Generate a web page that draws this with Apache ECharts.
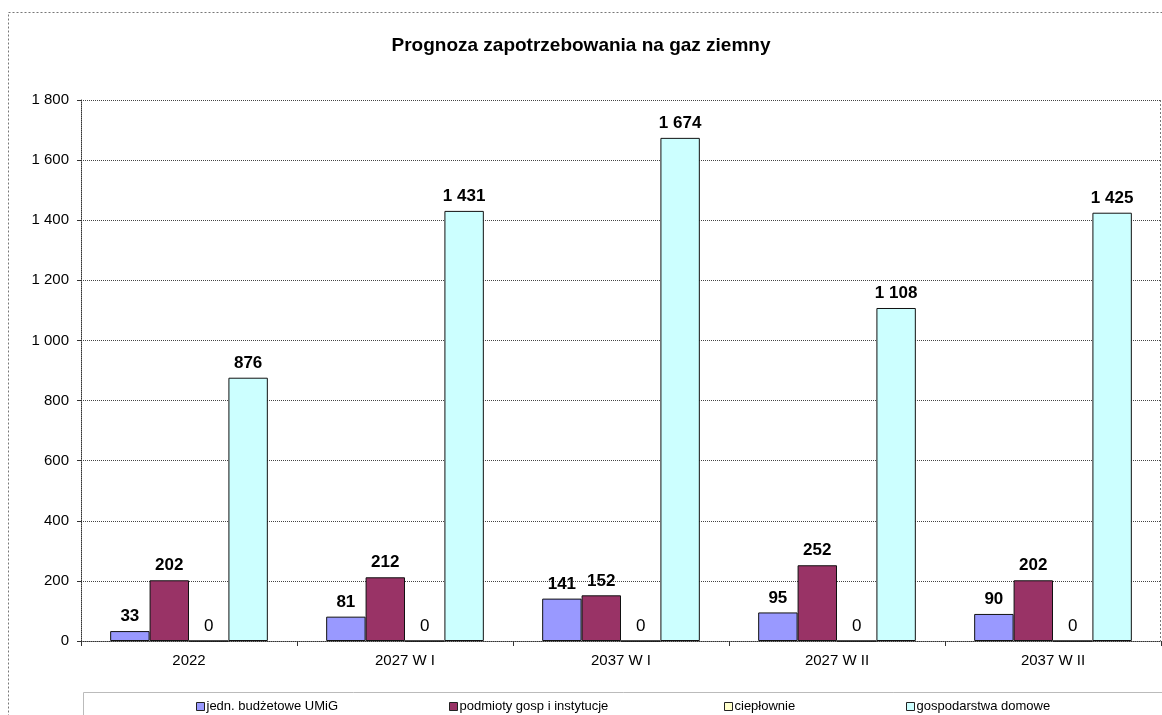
<!DOCTYPE html>
<html>
<head>
<meta charset="utf-8">
<script src="https://cdn.jsdelivr.net/npm/echarts@6/dist/echarts.min.js"></script>
<style>
  html, body { margin: 0; padding: 0; background: #fff; }
  #main { width: 1162px; height: 715px; }
</style>
</head>
<body>
<div id="main"></div>
<script>
// forecast of natural gas demand
const categories = ["2022", "2027 W I", "2037 W I", "2027 W II", "2037 W II"];
const seriesNames = ["jedn. budżetowe UMiG", "podmioty gosp i instytucje", "ciepłownie", "gospodarstwa domowe"];
const jednBudzetowe = [33, 81, 141, 95, 90];
const podmiotyGosp = [202, 212, 152, 252, 202];
const cieplownie = [0, 0, 0, 0, 0];
const gospodarstwa = [876, 1431, 1674, 1108, 1425];
const yTicks = [0, 200, 400, 600, 800, 1000, 1200, 1400, 1600, 1800];

const colors = ["#9999ff", "#993366", "#ffffcc", "#ccffff"];
const legendLeft = [196, 449, 724, 906];
const font = "Liberation Sans, Arial, sans-serif";

function fmt(v) {
  return String(v).replace(/\B(?=(\d{3})+(?!\d))/g, " ");
}

let chart = echarts.init(document.getElementById("main"));

function makeSeries(name, data, i) {
  return {
    name: name,
    type: "bar",
    data: data,
    barGap: "0%",
    barCategoryGap: "27%",
    itemStyle: {
      color: colors[i],
      borderColor: "#111",
      borderWidth: 1,
    },
    label: {
      show: true,
      position: "top",
      distance: 6,
      fontFamily: font,
      fontSize: 17,
      fontWeight: i == 2 ? "normal" : "bold",
      color: "#000",
      formatter: (p) => fmt(p.value),
    },
  };
}

let option = {
  animation: false,
  backgroundColor: "#fff",
  title: {
    text: "Prognoza zapotrzebowania na gaz ziemny",
    left: "center",
    top: 31,
    textStyle: {
      fontFamily: font,
      fontSize: 19,
      fontWeight: "bold",
      color: "#000",
    },
  },
  legend: seriesNames.map((n, i) => ({
    data: [n],
    left: legendLeft[i],
    top: 700,
    itemWidth: 8,
    itemHeight: 8,
    itemGap: 0,
    padding: 0,
    icon: "rect",
    itemStyle: { borderColor: "#222", borderWidth: 1 },
    textStyle: { fontFamily: font, fontSize: 13, color: "#000", padding: [0, 0, 0, -3] },
  })),
  grid: {
    left: 81,
    right: 1,
    top: 100,
    bottom: 74,
  },
  xAxis: {
    type: "category",
    data: categories,
    axisLine: { lineStyle: { color: "#333", type: "dotted" } },
    axisTick: { show: true, length: 5, lineStyle: { color: "#333" } },
    axisLabel: {
      fontFamily: font,
      fontSize: 15,
      color: "#000",
      margin: 12,
    },
  },
  yAxis: {
    type: "value",
    min: 0,
    max: 1800,
    interval: 200,
    axisLine: { show: true, lineStyle: { color: "#333", type: "dotted" } },
    axisTick: { show: true, length: 4, lineStyle: { color: "#333" } },
    axisLabel: {
      fontFamily: font,
      fontSize: 15,
      color: "#000",
      margin: 12,
      formatter: (v) => (yTicks.indexOf(v) != -1 ? fmt(v) : ""),
    },
    splitLine: {
      show: true,
      lineStyle: { color: "#444", type: "dotted", width: 1 },
    },
  },
  graphic: [
    {
      type: "rect",
      silent: true,
      z: -10,
      shape: { x: 8.5, y: 12.5, width: 1200, height: 800 },
      style: { fill: null, stroke: "#777", lineWidth: 1, lineDash: [2, 2] },
    },
    {
      type: "rect",
      silent: true,
      z: -10,
      shape: { x: 83.5, y: 692.5, width: 1200, height: 60 },
      style: { fill: null, stroke: "#bbb", lineWidth: 1 },
    },
    {
      type: "line",
      silent: true,
      z: 10,
      shape: { x1: 1160.5, y1: 100, x2: 1160.5, y2: 641 },
      style: { stroke: "#777", lineWidth: 1, lineDash: [2, 2] },
    },
  ],
  series: [
    makeSeries(seriesNames[0], jednBudzetowe, 0),
    makeSeries(seriesNames[1], podmiotyGosp, 1),
    makeSeries(seriesNames[2], cieplownie, 2),
    makeSeries(seriesNames[3], gospodarstwa, 3),
  ],
};

chart.setOption(option);
</script>
</body>
</html>
